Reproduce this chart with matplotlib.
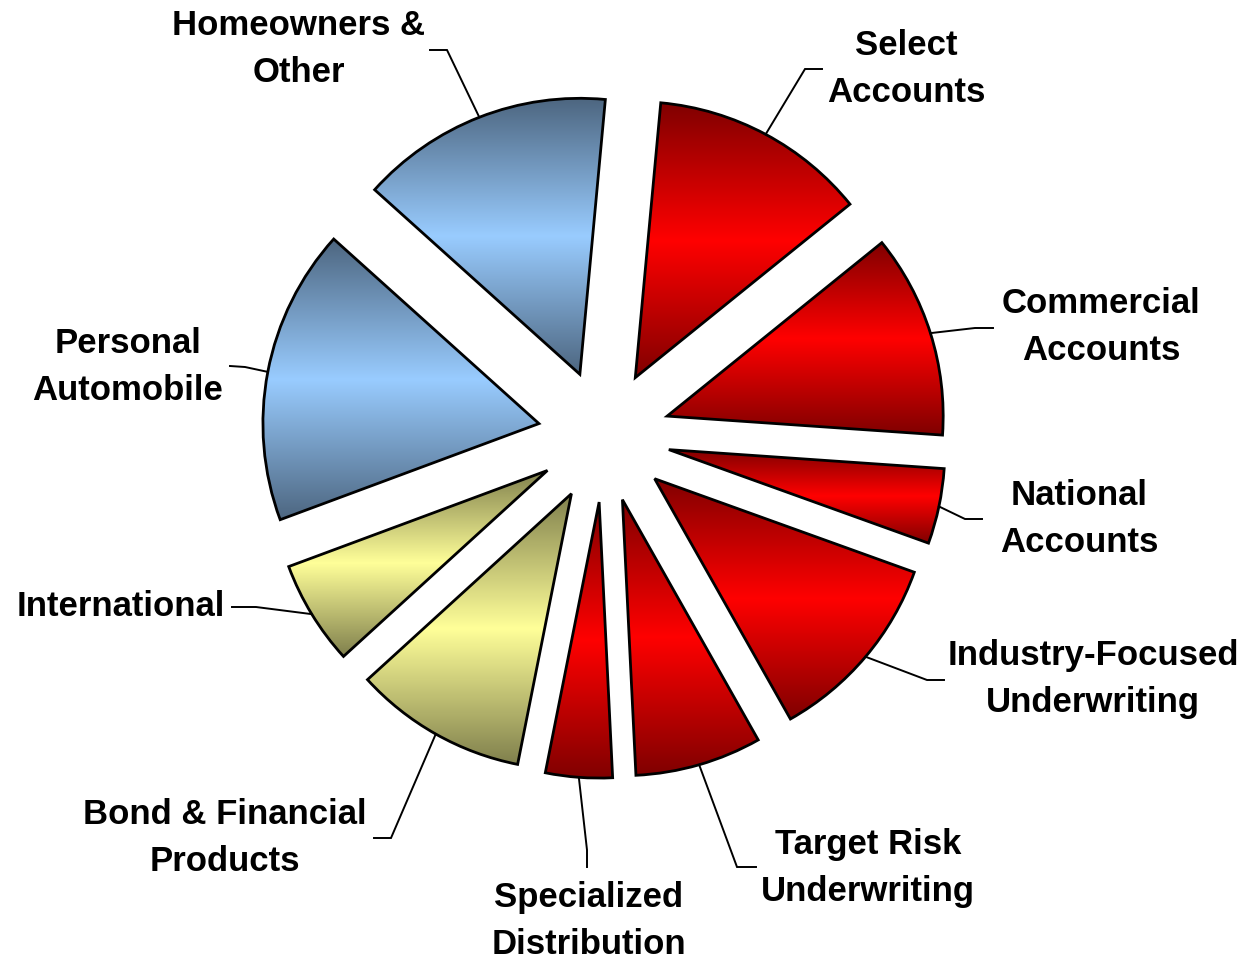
import numpy as np
import matplotlib
matplotlib.use("Agg")
import matplotlib.pyplot as plt
from matplotlib.colors import LinearSegmentedColormap

# segment shares (% of premiums), clockwise from 12 o'clock
labels = ["Select\nAccounts", "Commercial\nAccounts", "National\nAccounts",
          "Industry-Focused\nUnderwriting", "Target Risk\nUnderwriting",
          "Specialized\nDistribution", "Bond & Financial\nProducts",
          "International", "Personal\nAutomobile", "Homeowners &\nOther"]
shares = [12.7, 11.9, 4.4, 11.3, 7.4, 3.9, 10.1, 6.1, 17.3, 14.8]
groups = ["business"] * 6 + ["specialty"] * 2 + ["personal"] * 2

# (dark, light) gradient ends per group
palette = {
    "business": ("#800000", "#FF0000"),
    "specialty": ("#80804D", "#FFFF99"),
    "personal": ("#4D6680", "#99CCFF"),
}

W, H = 1245, 960
CX, CY, R = 604, 436, 276  # pie centre / radius in pixels

# label anchors and leader elbows, pixel coords from top-left
label_pos = [(906, 69), (1101, 327), (1000, 519), (1093, 679), (868, 868),
             (589, 921), (225, 838), (121, 607), (128, 367), (299, 49)]
label_ha = ["center", "center", "left", "center", "center",
            "center", "center", "center", "center", "center"]
elbows = [((805, 69), (822, 69)), ((975, 328), (993, 328)),
          ((965, 519), (982, 519)), ((927, 680), (944, 680)),
          ((737, 867), (756, 867)), ((587, 850), (587, 867)),
          ((391, 838), (374, 838)), ((256, 607), (232, 607)),
          ((245, 367), (230, 366)), ((447, 50), (430, 50))]


def px(x, y):
    # pixel position -> data units (pie radius = 1)
    return (x - CX) / R, (CY - y) / R


fig = plt.figure(figsize=(W / 100, H / 100), dpi=100)
ax = fig.add_axes([0, 0, 1, 1])

wedges, _ = ax.pie(shares, startangle=84.7, counterclock=False,
                   explode=[0.24] * len(shares),
                   wedgeprops=dict(facecolor="none", edgecolor="black",
                                   linewidth=2.0, joinstyle="miter"))

t = np.linspace(0, 1, 256)
grad = (1 - np.abs(2 * t - 1)).reshape(-1, 1)

for w, g in zip(wedges, groups):
    dark, light = palette[g]
    cmap = LinearSegmentedColormap.from_list(g, [dark, light])
    ext = w.get_path().get_extents()
    im = ax.imshow(grad, extent=(ext.x0, ext.x1, ext.y0, ext.y1),
                   origin="lower", cmap=cmap, vmin=0, vmax=1,
                   aspect="auto", interpolation="bilinear", zorder=0.5)
    im.set_clip_path(w)

for w, lab, pos, ha, (e1, e2) in zip(wedges, labels, label_pos, label_ha, elbows):
    tm = np.deg2rad((w.theta1 + w.theta2) / 2)
    ax0 = w.center[0] + w.r * np.cos(tm)
    ay0 = w.center[1] + w.r * np.sin(tm)
    p1, p2 = px(*e1), px(*e2)
    ax.plot([ax0, p1[0], p2[0]], [ay0, p1[1], p2[1]], color="black",
            lw=1.4, zorder=2, solid_joinstyle="miter")
    tx, ty = px(*pos)
    ax.text(tx, ty, lab, ha=ha, va="center", multialignment="center",
            fontsize=25, fontweight="bold", family="Liberation Sans",
            linespacing=1.52, color="black", zorder=3)

ax.set_xlim(-CX / R, (W - CX) / R)
ax.set_ylim(-(H - CY) / R, CY / R)
ax.set_aspect("equal")
ax.axis("off")

fig.savefig("out.png", dpi=100, facecolor="white")
